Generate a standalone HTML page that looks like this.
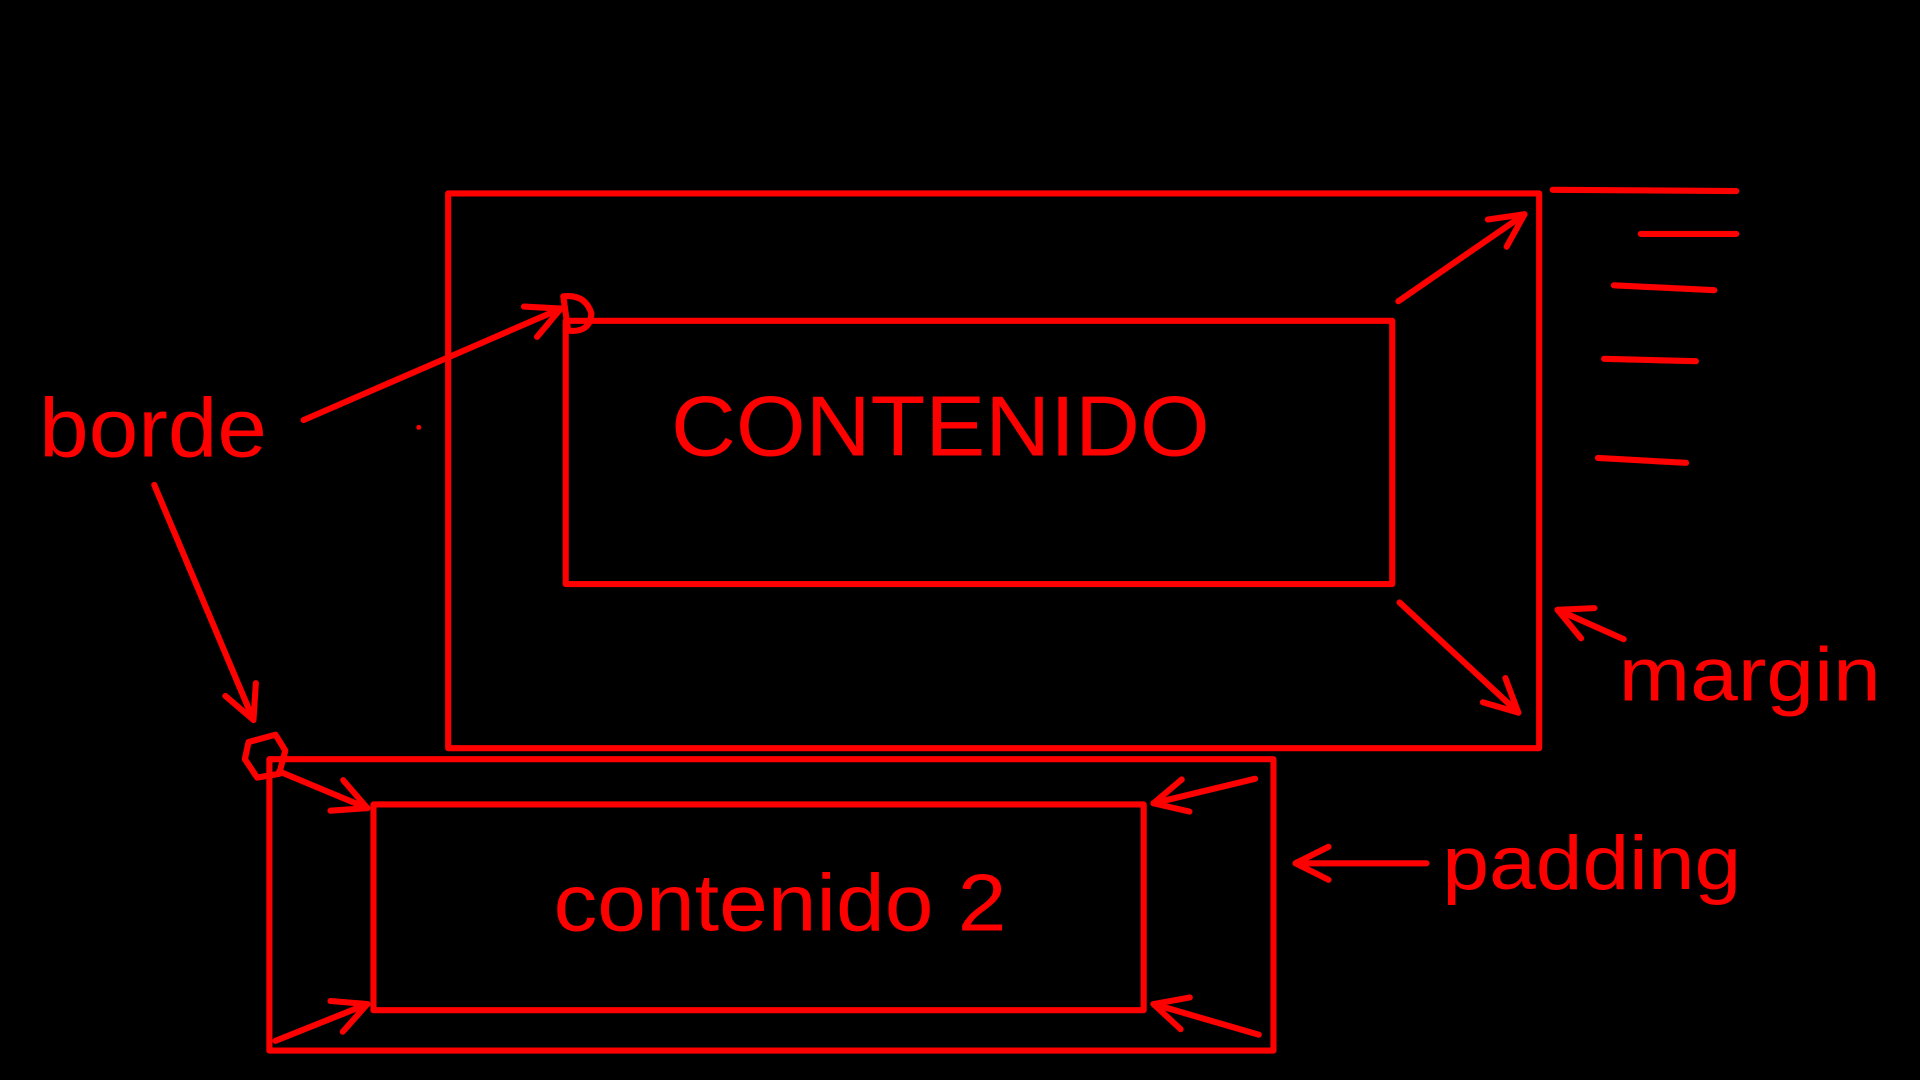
<!DOCTYPE html>
<html><head><meta charset="utf-8"><style>
html,body{margin:0;padding:0;background:#000;width:1920px;height:1080px;overflow:hidden}
svg{display:block}
text{font-family:"Liberation Sans",sans-serif;fill:#ff0000}
</style></head><body>
<svg width="1920" height="1080" viewBox="0 0 1568 882" xmlns="http://www.w3.org/2000/svg">
<defs>
<marker id="a" viewBox="0 0 20 20" refX="19" refY="10" markerWidth="30" markerHeight="30" markerUnits="userSpaceOnUse" orient="auto" style="overflow:visible">
<polyline points="1,1 19,10 1,19" fill="none" stroke="#ff0000" stroke-width="3.3" stroke-linecap="round" stroke-linejoin="round"/>
</marker>
</defs>
<g fill="none" stroke="#ff0000" stroke-width="5" stroke-linecap="round" stroke-linejoin="round">
<rect x="366" y="158" width="891" height="453"/>
<rect x="462" y="262" width="675" height="215"/>
<rect x="220" y="620" width="820" height="238"/>
<rect x="305" y="657" width="629" height="168"/>
<path d="M1268 155 L1418 156 M1340 191 L1418 191 M1318 233 L1400 237 M1310 293 L1385 295 M1305 374 L1377 378"/>
<g marker-end="url(#a)">
<path d="M1142 246 L1245 175"/>
<path d="M1143 492 L1240 582"/>
<path d="M1326 522 L1272 498"/>
<path d="M248 343 L458 252"/>
<path d="M126 396 L207 588"/>
<path d="M228 630 L300 660"/>
<path d="M225 850 L300 820"/>
<path d="M1025 636 L942 656"/>
<path d="M1028 845 L942 820"/>
<path d="M1165 705 L1058 705"/>
</g>
<path d="M460 242 Q478 240 483 256 Q482 272 464 270 Z"/>
<path d="M203 606 L225 600 L233 613 L228 632 L210 635 L200 620 Z"/>
</g>
<circle cx="342" cy="349" r="2" fill="#ff0000"/>
<text x="548" y="372" font-size="70" textLength="440" lengthAdjust="spacingAndGlyphs">CONTENIDO</text>
<text x="32" y="373" font-size="68" textLength="186" lengthAdjust="spacingAndGlyphs">borde</text>
<text x="1322" y="572" font-size="62" textLength="214" lengthAdjust="spacingAndGlyphs">margin</text>
<text x="1178" y="726" font-size="62" textLength="244" lengthAdjust="spacingAndGlyphs">padding</text>
<text x="452" y="760" font-size="66" textLength="370" lengthAdjust="spacingAndGlyphs">contenido 2</text>
</svg>
</body></html>
